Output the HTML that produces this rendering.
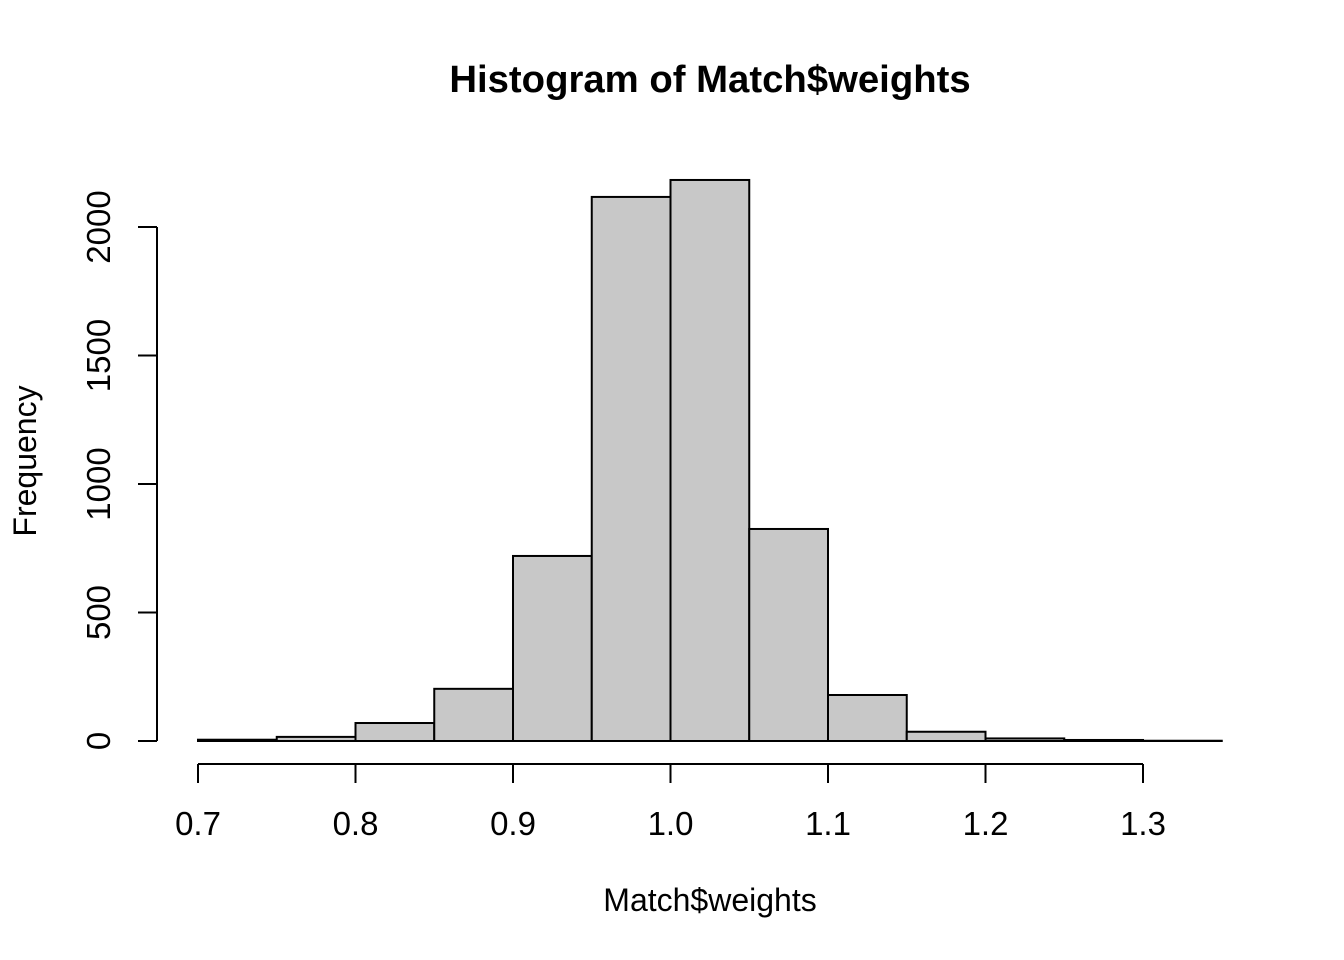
<!DOCTYPE html>
<html><head><meta charset="utf-8"><style>
html,body{margin:0;padding:0;background:#fff;}
svg{display:block;font-family:"Liberation Sans",Arial,sans-serif;}
</style></head><body>
<svg id="chart" width="1344" height="960" viewBox="0 0 1344 960">
<text x="710" y="92" text-anchor="middle" font-size="38.3" font-weight="bold">Histogram of Match$weights</text>
<text x="710" y="911" text-anchor="middle" font-size="32">Match$weights</text>
<text transform="translate(36,461) rotate(-90)" text-anchor="middle" font-size="32">Frequency</text>
<g id="bars"></g><g id="xaxis"></g><g id="yaxis"></g>
</svg>
<script>
const binStarts=[0.70,0.75,0.80,0.85,0.90,0.95,1.00,1.05,1.10,1.15,1.20,1.25,1.30];
const counts=[5,16,70,203,720,2117,2183,825,179,36,10,4,1];
const binWidth=0.05;
const xTicks=[0.7,0.8,0.9,1.0,1.1,1.2,1.3];
const xTickLabels=["0.7","0.8","0.9","1.0","1.1","1.2","1.3"];
const yTicks=[0,500,1000,1500,2000];
const ns="http://www.w3.org/2000/svg";
const xs=v=>198+(v-0.7)*1575;
const ys=v=>741-v*0.257;
function mk(t,a,p){const e=document.createElementNS(ns,t);for(const k in a)e.setAttribute(k,a[k]);p.appendChild(e);return e;}
const bars=document.getElementById('bars');
binStarts.forEach((b,i)=>{
  const x0=xs(b),x1=xs(b+binWidth),y=ys(counts[i]);
  const r=mk('rect',{x:x0,y:y,width:x1-x0,height:741-y,fill:'#c8c8c8',stroke:'#000','stroke-width':2},bars);
  
  
});
const xa=document.getElementById('xaxis');
const xl=mk('line',{x1:xs(xTicks[0]),x2:xs(xTicks[xTicks.length-1]),y1:764,y2:764,stroke:'#000','stroke-width':2},xa);


xTicks.forEach((t,i)=>{
  mk('line',{x1:xs(t),x2:xs(t),y1:764,y2:783,stroke:'#000','stroke-width':2},xa);
  const tx=mk('text',{x:xs(t),y:835,'text-anchor':'middle','font-size':33},xa);
  tx.textContent=xTickLabels[i];
  
  
});
const ya=document.getElementById('yaxis');
const yl=mk('line',{x1:157,x2:157,y1:ys(0),y2:ys(2000),stroke:'#000','stroke-width':2},ya);


yTicks.forEach(t=>{
  mk('line',{x1:138,x2:157,y1:ys(t),y2:ys(t),stroke:'#000','stroke-width':2},ya);
  const tx=mk('text',{transform:`translate(110,${ys(t)}) rotate(-90)`,'text-anchor':'middle','font-size':33},ya);
  tx.textContent=String(t);
  
  
});
</script>
</body></html>
